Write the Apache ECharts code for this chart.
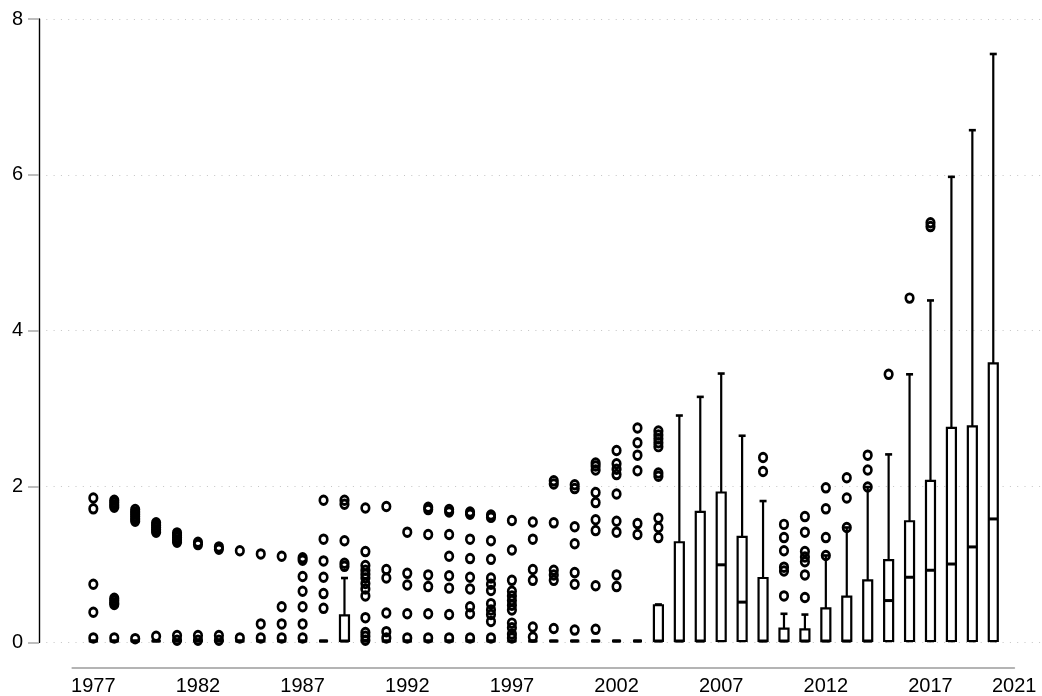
<!DOCTYPE html>
<html>
<head>
<meta charset="utf-8">
<script src="https://cdn.jsdelivr.net/npm/echarts@6/dist/echarts.min.js"></script>
<style>
  html, body { margin: 0; padding: 0; background: #fff; }
  #chart { width: 1042px; height: 696px; }
</style>
</head>
<body>
<div id="chart"></div>
<script>
// Yearly distributions: box statistics per year plus the points beyond the whiskers.
const YEARS = [1977, 1978, 1979, 1980, 1981, 1982, 1983, 1984, 1985, 1986,
               1987, 1988, 1989, 1990, 1991, 1992, 1993, 1994, 1995, 1996,
               1997, 1998, 1999, 2000, 2001, 2002, 2003, 2004, 2005, 2006,
               2007, 2008, 2009, 2010, 2011, 2012, 2013, 2014, 2015, 2016,
               2017, 2018, 2019, 2020];

const WHISKER_LOW = [0, 0, 0, 0, 0, 0, 0, 0, 0, 0,
                     0, 0, 0, 0, 0, 0, 0, 0, 0, 0,
                     0, 0, 0, 0, 0, 0, 0, 0, 0, 0,
                     0, 0, 0, 0, 0, 0, 0, 0, 0, 0,
                     0, 0, 0, 0];

const Q1 = [0, 0, 0, 0, 0, 0, 0, 0, 0, 0,
            0, 0, 0, 0, 0, 0, 0, 0, 0, 0,
            0, 0, 0, 0, 0, 0, 0, 0, 0, 0,
            0, 0, 0, 0, 0, 0, 0, 0, 0, 0,
            0, 0, 0, 0];

const MEDIAN = [0, 0, 0, 0, 0, 0, 0, 0, 0, 0,
                0, 0, 0, 0, 0, 0, 0, 0, 0, 0,
                0, 0, 0, 0, 0, 0, 0, 0, 0, 0,
                0.98, 0.50, 0, 0, 0, 0, 0, 0, 0.52, 0.82,
                0.91, 0.99, 1.21, 1.57];

const Q3 = [0, 0, 0, 0, 0, 0, 0, 0, 0, 0,
            0, 0, 0.33, 0, 0, 0, 0, 0, 0, 0,
            0, 0, 0, 0, 0, 0, 0, 0.46, 1.27, 1.66,
            1.91, 1.34, 0.81, 0.16, 0.15, 0.42, 0.57, 0.78, 1.04, 1.54,
            2.06, 2.74, 2.76, 3.57];

const WHISKER_HIGH = [0, 0, 0, 0, 0, 0, 0, 0, 0, 0,
                      0, 0, 0.81, 0, 0, 0, 0, 0, 0, 0,
                      0, 0, 0, 0, 0, 0, 0, 0.47, 2.90, 3.14,
                      3.44, 2.64, 1.80, 0.35, 0.34, 1.10, 1.46, 1.98, 2.40, 3.43,
                      4.38, 5.97, 6.57, 7.55];

const OUTLIERS = [
  [1.84, 1.70, 0.73, 0.37, 0.04],                                   // 1977
  [1.81, 1.78, 1.75, 1.72, 0.55, 0.52, 0.49, 0.47, 0.04],           // 1978
  [1.69, 1.66, 1.63, 1.60, 1.57, 1.54, 0.03],                       // 1979
  [1.52, 1.49, 1.46, 1.43, 1.40, 0.06],                             // 1980
  [1.39, 1.36, 1.33, 1.30, 1.27, 0.07, 0.01],                       // 1981
  [1.27, 1.24, 0.07, 0.01],                                         // 1982
  [1.21, 1.18, 0.07, 0.01],                                         // 1983
  [1.16, 0.04],                                                     // 1984
  [1.12, 0.22, 0.04],                                               // 1985
  [1.09, 0.44, 0.22, 0.04],                                         // 1986
  [1.07, 1.04, 0.83, 0.64, 0.44, 0.22, 0.04],                       // 1987
  [1.81, 1.31, 1.03, 0.82, 0.61, 0.42],                             // 1988
  [1.81, 1.76, 1.29, 1.00, 0.96],                                   // 1989
  [1.71, 1.15, 0.97, 0.91, 0.86, 0.81, 0.74, 0.67, 0.58, 0.30, 0.11, 0.06, 0.01], // 1990
  [1.73, 0.92, 0.81, 0.36, 0.12, 0.04],                             // 1991
  [1.40, 0.87, 0.72, 0.35, 0.04],                                   // 1992
  [1.72, 1.69, 1.37, 0.85, 0.70, 0.35, 0.04],                       // 1993
  [1.69, 1.66, 1.37, 1.09, 0.84, 0.68, 0.34, 0.04],                 // 1994
  [1.66, 1.63, 1.31, 1.06, 0.82, 0.67, 0.44, 0.35, 0.04],           // 1995
  [1.62, 1.59, 1.29, 1.05, 0.81, 0.73, 0.65, 0.48, 0.40, 0.34, 0.25, 0.04], // 1996
  [1.55, 1.17, 0.78, 0.64, 0.58, 0.52, 0.46, 0.40, 0.23, 0.17, 0.09, 0.04], // 1997
  [1.53, 1.31, 0.92, 0.78, 0.18, 0.05],                             // 1998
  [2.06, 2.02, 1.52, 0.91, 0.85, 0.78, 0.16],                       // 1999
  [2.01, 1.96, 1.47, 1.25, 0.88, 0.73, 0.14],                       // 2000
  [2.29, 2.25, 2.20, 1.91, 1.78, 1.56, 1.42, 0.71, 0.15],           // 2001
  [2.45, 2.28, 2.21, 2.14, 1.89, 1.54, 1.40, 0.85, 0.70],           // 2002
  [2.74, 2.55, 2.39, 2.19, 1.51, 1.37],                             // 2003
  [2.70, 2.65, 2.60, 2.55, 2.50, 2.16, 2.12, 1.58, 1.46, 1.33],     // 2004
  [], [], [], [],                                                   // 2005-2008
  [2.36, 2.18],                                                     // 2009
  [1.50, 1.33, 1.16, 0.95, 0.90, 0.58],                             // 2010
  [1.60, 1.40, 1.15, 1.08, 1.02, 0.85, 0.56],                       // 2011
  [1.97, 1.70, 1.33, 1.10],                                         // 2012
  [2.10, 1.84, 1.46],                                               // 2013
  [2.39, 2.20, 1.98],                                               // 2014
  [3.43],                                                           // 2015
  [4.41],                                                           // 2016
  [5.38, 5.33],                                                     // 2017
  [], [], []                                                        // 2018-2020
];

const X_TICK_LABELS = [1977, 1982, 1987, 1992, 1997, 2002, 2007, 2012, 2017, 2021];
const Y_TICKS = [0, 2, 4, 6, 8];

const FONT = '"Liberation Sans", Arial, Helvetica, sans-serif';

const boxRows = YEARS.map((y, i) => [y, WHISKER_LOW[i], Q1[i], MEDIAN[i], Q3[i], WHISKER_HIGH[i]]);
const outlierPoints = [];
YEARS.forEach((y, i) => OUTLIERS[i].forEach(v => outlierPoints.push([y, v])));

function renderBox(params, api) {
  const x = api.value(0);
  const lo = api.coord([x, api.value(1)]);
  const q1 = api.coord([x, api.value(2)]);
  const md = api.coord([x, api.value(3)]);
  const q3 = api.coord([x, api.value(4)]);
  const hi = api.coord([x, api.value(5)]);
  const cx = q1[0];
  const halfBox = 4.5;
  const halfCap = 3.5;
  const line = { stroke: '#000', lineWidth: 2.2 };
  return {
    type: 'group',
    children: [
      { type: 'line', shape: { x1: cx, y1: q3[1], x2: cx, y2: hi[1] }, style: line },
      { type: 'line', shape: { x1: cx - halfCap, y1: hi[1], x2: cx + halfCap, y2: hi[1] }, style: { stroke: '#000', lineWidth: 2.6 } },
      { type: 'line', shape: { x1: cx, y1: q1[1], x2: cx, y2: lo[1] }, style: line },
      { type: 'line', shape: { x1: cx - halfCap, y1: lo[1], x2: cx + halfCap, y2: lo[1] }, style: { stroke: '#000', lineWidth: 2.6 } },
      { type: 'rect', shape: { x: cx - halfBox, y: q3[1], width: halfBox * 2, height: q1[1] - q3[1] },
        style: { fill: '#fff', stroke: '#000', lineWidth: 2.2 } },
      { type: 'line', shape: { x1: cx - halfBox, y1: md[1], x2: cx + halfBox, y2: md[1] }, style: { stroke: '#000', lineWidth: 3 } }
    ]
  };
}

const chart = echarts.init(document.getElementById('chart'), null, { renderer: 'canvas' });

chart.setOption({
  animation: false,
  backgroundColor: '#fff',
  grid: [
    // value scale with its dotted guides across the full width
    { left: 39, right: 0, top: 19, bottom: 53.6 },
    // year scale, from 1976 to 2021
    { left: 72.4, right: 27.8, top: 19, bottom: 53.6 }
  ],
  xAxis: [
    { gridIndex: 0, type: 'value', min: 0, max: 1, show: false },
    {
      gridIndex: 1, type: 'value', min: 1976, max: 2021, interval: 1,
      offset: 27,
      axisLine: { show: true, onZero: false, lineStyle: { color: '#b4b4b4', width: 2 } },
      axisTick: { show: false },
      splitLine: { show: false },
      axisLabel: {
        show: true, margin: 8, color: '#000', fontSize: 20, fontFamily: FONT,
        showMinLabel: true, showMaxLabel: true,
        formatter: v => (X_TICK_LABELS.indexOf(Math.round(v)) >= 0 ? String(Math.round(v)) : '')
      }
    }
  ],
  yAxis: [
    {
      gridIndex: 0, type: 'value', min: Y_TICKS[0], max: Y_TICKS[Y_TICKS.length - 1], interval: 2,
      axisLine: { show: true, onZero: false, lineStyle: { color: '#000', width: 1.4 } },
      axisTick: { show: true, length: 11, lineStyle: { color: '#a8a8a8', width: 1.5 } },
      axisLabel: { margin: 16, color: '#000', fontSize: 20, fontFamily: FONT },
      splitLine: { show: true, lineStyle: { color: '#c4c4c4', width: 1, type: [1, 6.3] } }
    },
    { gridIndex: 1, type: 'value', min: 0, max: 8, show: false }
  ],
  series: [
    {
      name: 'outliers',
      type: 'scatter',
      xAxisIndex: 1, yAxisIndex: 1,
      data: outlierPoints,
      symbol: 'circle',
      symbolSize: [7.5, 8.5],
      itemStyle: { color: 'transparent', borderColor: '#000', borderWidth: 2.8, opacity: 1 },
      z: 2
    },
    {
      name: 'boxes',
      type: 'custom',
      xAxisIndex: 1, yAxisIndex: 1,
      data: boxRows,
      encode: { x: 0, y: [1, 2, 3, 4, 5] },
      renderItem: renderBox,
      z: 3
    }
  ]
});
</script>
</body>
</html>
